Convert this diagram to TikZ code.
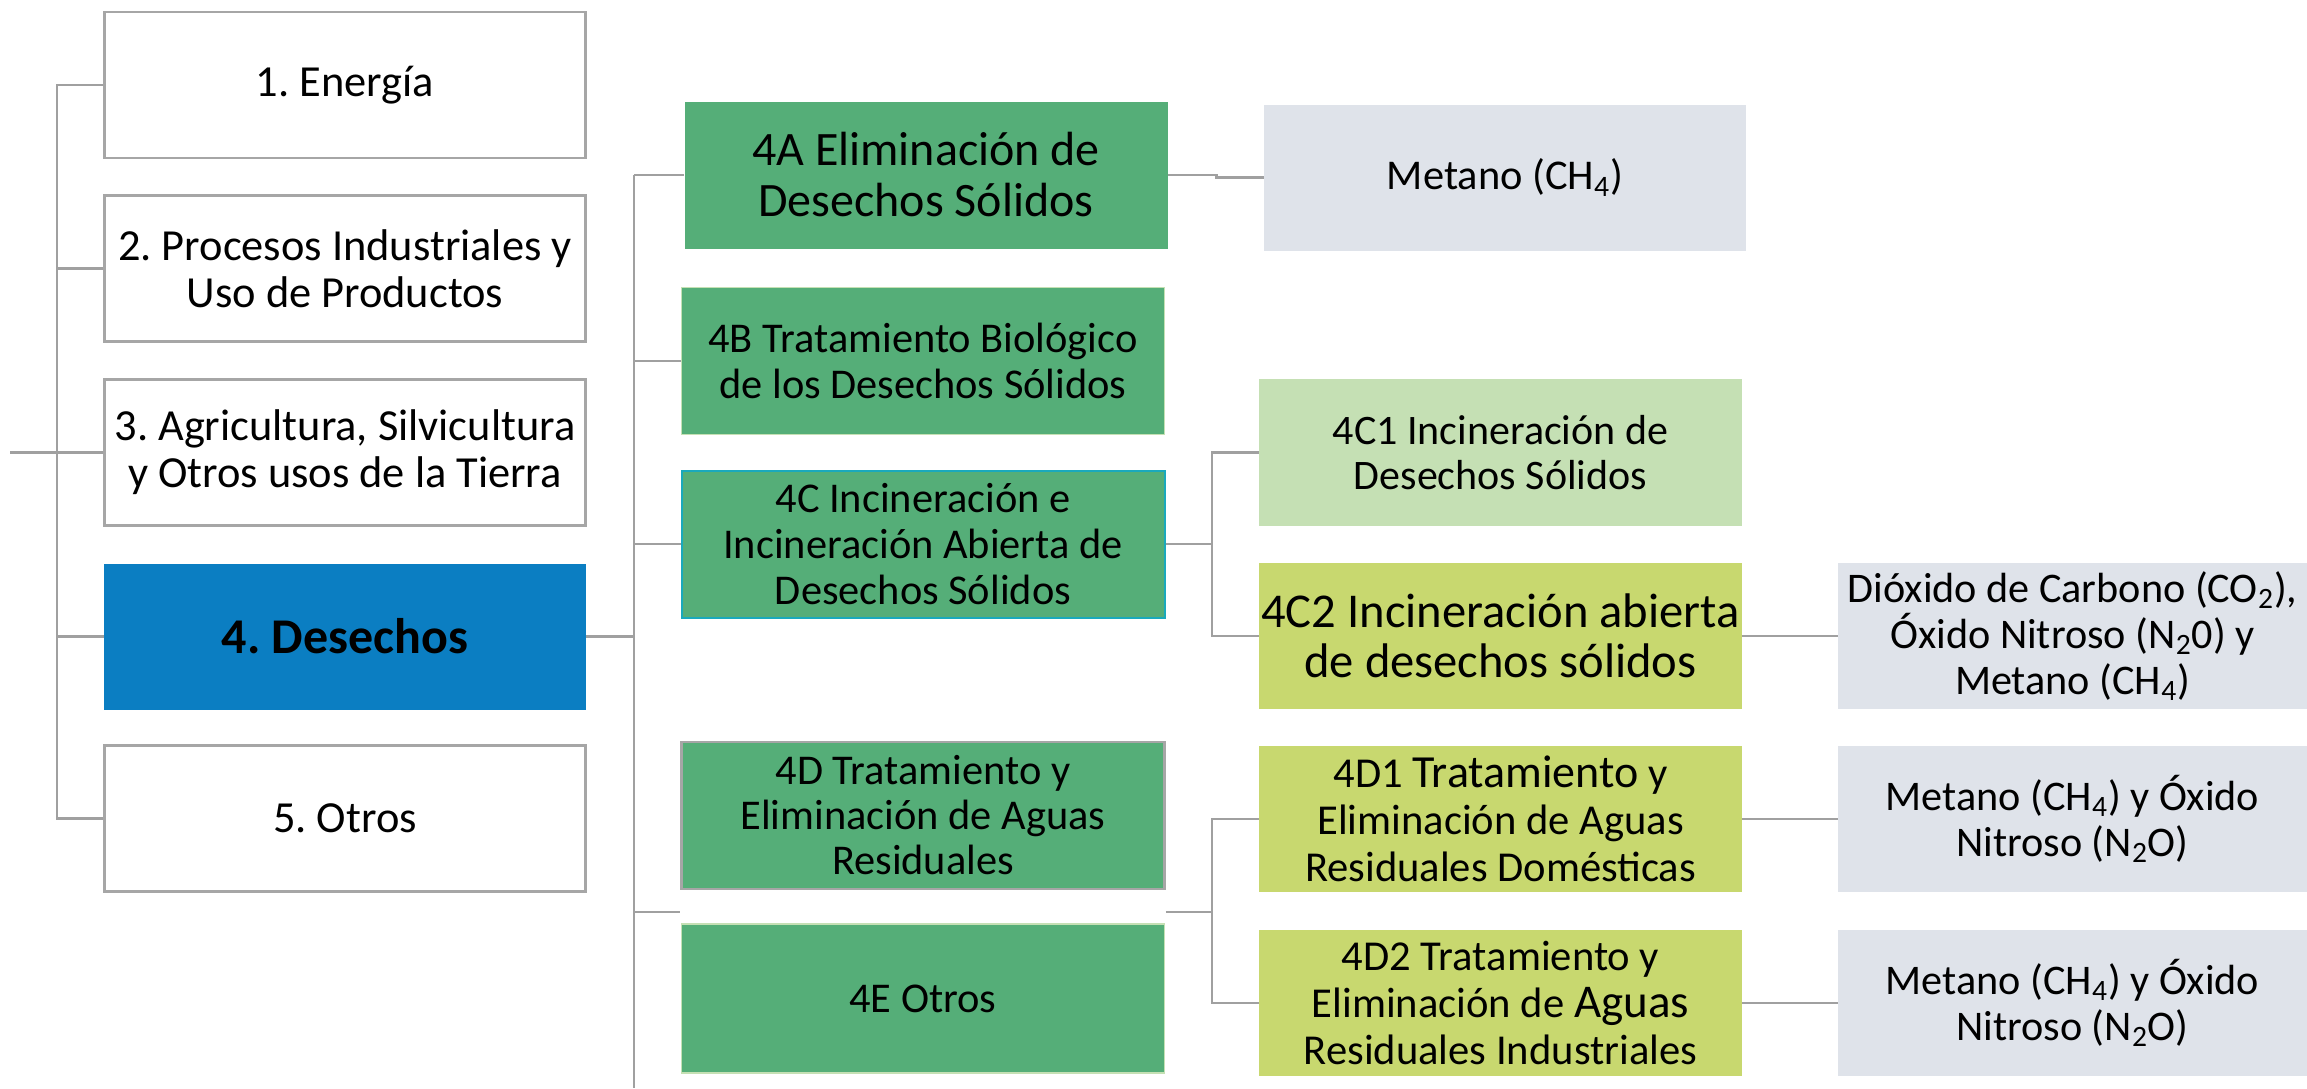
\documentclass[tikz,border=0pt]{standalone}
\usepackage{fontspec}
\setmainfont{Carlito}
\definecolor{lineg}{HTML}{A0A0A0}
\definecolor{boxg}{HTML}{A6A6A6}
\definecolor{dblue}{HTML}{0B7EC2}
\definecolor{mgreen}{HTML}{55AE78}
\definecolor{lgreen}{HTML}{C5E0B4}
\definecolor{ygreen}{HTML}{C8D86F}
\definecolor{gasc}{HTML}{DFE3EA}
\definecolor{tealb}{HTML}{1AA9BC}
\newcommand{\sub}[1]{\textsubscript{#1}}
\frenchspacing
\begin{document}
\begin{tikzpicture}[x=0.5pt,y=-0.5pt,
  base/.style={rectangle, inner sep=0pt, align=center, text=black},
  lvlone/.style={base, draw=boxg, line width=1.3pt, fill=white, minimum width=240.5pt, minimum height=73pt, font=\fontsize{22.2}{23.5}\selectfont},
  mainbox/.style={base, fill=dblue, minimum width=241pt, minimum height=73pt, font=\fontsize{25}{26}\selectfont\bfseries},
  midbox/.style={base, fill=mgreen, minimum width=241.5pt, minimum height=73.5pt, font=\fontsize{21.2}{23.2}\selectfont},
  c1box/.style={base, fill=lgreen, minimum width=241.5pt, minimum height=73.5pt, font=\fontsize{21}{22.5}\selectfont},
  ybox/.style={base, fill=ygreen, minimum width=241.5pt, minimum height=73pt, font=\fontsize{21.3}{23.5}\selectfont},
  gasbox/.style={base, fill=gasc, minimum width=234.5pt, minimum height=73pt, font=\fontsize{21.1}{23}\selectfont},
  conn/.style={draw=lineg, line width=1.4pt}
]
\useasboundingbox (0,0) rectangle (2307,1088);
\fill[white] (0,0) rectangle (2307,1088);

% level 1
\node[lvlone] (e1) at (345,85) {1. Energía};
\node[lvlone] (e2) at (345,268.5) {2. Procesos Industriales y\\Uso de Productos};
\node[lvlone] (e3) at (345,452.5) {3. Agricultura, Silvicultura\\y Otros usos de la Tierra};
\node[mainbox] (e4) at (345,636.5) {4. Desechos};
\node[lvlone] (e5) at (345,818.5) {5. Otros};

% level 2
\node[midbox, font=\fontsize{24}{25.5}\selectfont] (a) at (926,175) {4A Eliminación de\\Desechos Sólidos};
\node[midbox, draw=lgreen, line width=0.6pt] (b) at (923,361) {4B Tratamiento Biológico\\de los Desechos Sólidos};
\node[midbox, draw=tealb, line width=1pt] (c) at (923,544) {4C Incineración e\\Incineración Abierta de\\Desechos Sólidos};
\node[midbox, draw=boxg, line width=1.3pt, font=\fontsize{21.2}{22.5}\selectfont] (d) at (923,815.5) {4D Tratamiento y\\Eliminación de Aguas\\Residuales};
\node[midbox, draw=lgreen, line width=0.6pt, minimum height=74.5pt] (e) at (923,998.5) {4E Otros};

% level 3
\node[gasbox, minimum width=241pt, font=\fontsize{21.2}{23}\selectfont] (m) at (1505,177.5) {Metano (CH\sub{4})};
\node[c1box] (c1) at (1500.5,452.5) {4C1 Incineración de\\Desechos Sólidos};
\node[ybox, font=\fontsize{24.3}{25}\selectfont] (c2) at (1500.5,636) {4C2 Incineración abierta\\de desechos sólidos};
\node[ybox] (d1) at (1500.5,819) {4D1 {\fontsize{23}{23.5}\selectfont Tratamiento} y\\Eliminación de Aguas\\Residuales Domésticas};
\node[ybox] (d2) at (1500.5,1003) {4D2 Tratamiento y\\Eliminación de {\fontsize{23.5}{23.5}\selectfont Aguas}\\Residuales Industriales};

% gases
\node[gasbox] (g2) at (2072.5,636) {Dióxido de Carbono (CO\sub{2}),\\Óxido Nitroso (N\sub{2}0) y\\Metano (CH\sub{4})};
\node[gasbox] (g3) at (2072.5,819) {Metano (CH\sub{4}) y Óxido\\Nitroso (N\sub{2}O)};
\node[gasbox] (g4) at (2072.5,1003) {Metano (CH\sub{4}) y Óxido\\Nitroso (N\sub{2}O)};

% coordinates
\coordinate (tone) at (57,0);
\coordinate (ttwo) at (634,175);
\coordinate (tbot) at (634,1088);
\coordinate (sx) at (1212,0);
\coordinate (dstub) at (0,912);
\coordinate (lstub) at (10,452.5);

% level-1 connectors
\draw[conn] (e1.west) -- (e1.west -| tone) |- (e5.west);
\draw[conn] (e2.west) -- (e2.west -| tone);
\draw[conn] (e3.west) -- (lstub);
\draw[conn] (e4.west) -- (e4.west -| tone);

% level-2 connectors
\draw[conn] (ttwo) -- (tbot);
\draw[conn] (e4.east) -- (e4.east -| ttwo);
\draw[conn] (a.west) -- (ttwo);
\draw[conn] (b.west) -- (b.west -| ttwo);
\draw[conn] (c.west) -- (c.west -| ttwo);
\draw[conn] (ttwo |- dstub) -- (d.west |- dstub);

% level-3 connectors
\draw[conn] (a.east) -- ++(48.5,0) -- ++(0,2.5) -- (m.west);
\draw[conn] (c.east) -- (c.east -| sx);
\draw[conn] (c1.west) -- (c1.west -| sx) |- (c2.west);
\draw[conn] (d.east |- dstub) -- (sx |- dstub);
\draw[conn] (d1.west) -- (d1.west -| sx) |- (d2.west);

% gas connectors
\draw[conn] (c2.east) -- (g2.west);
\draw[conn] (d1.east) -- (g3.west);
\draw[conn] (d2.east) -- (g4.west);
\end{tikzpicture}
\end{document}
